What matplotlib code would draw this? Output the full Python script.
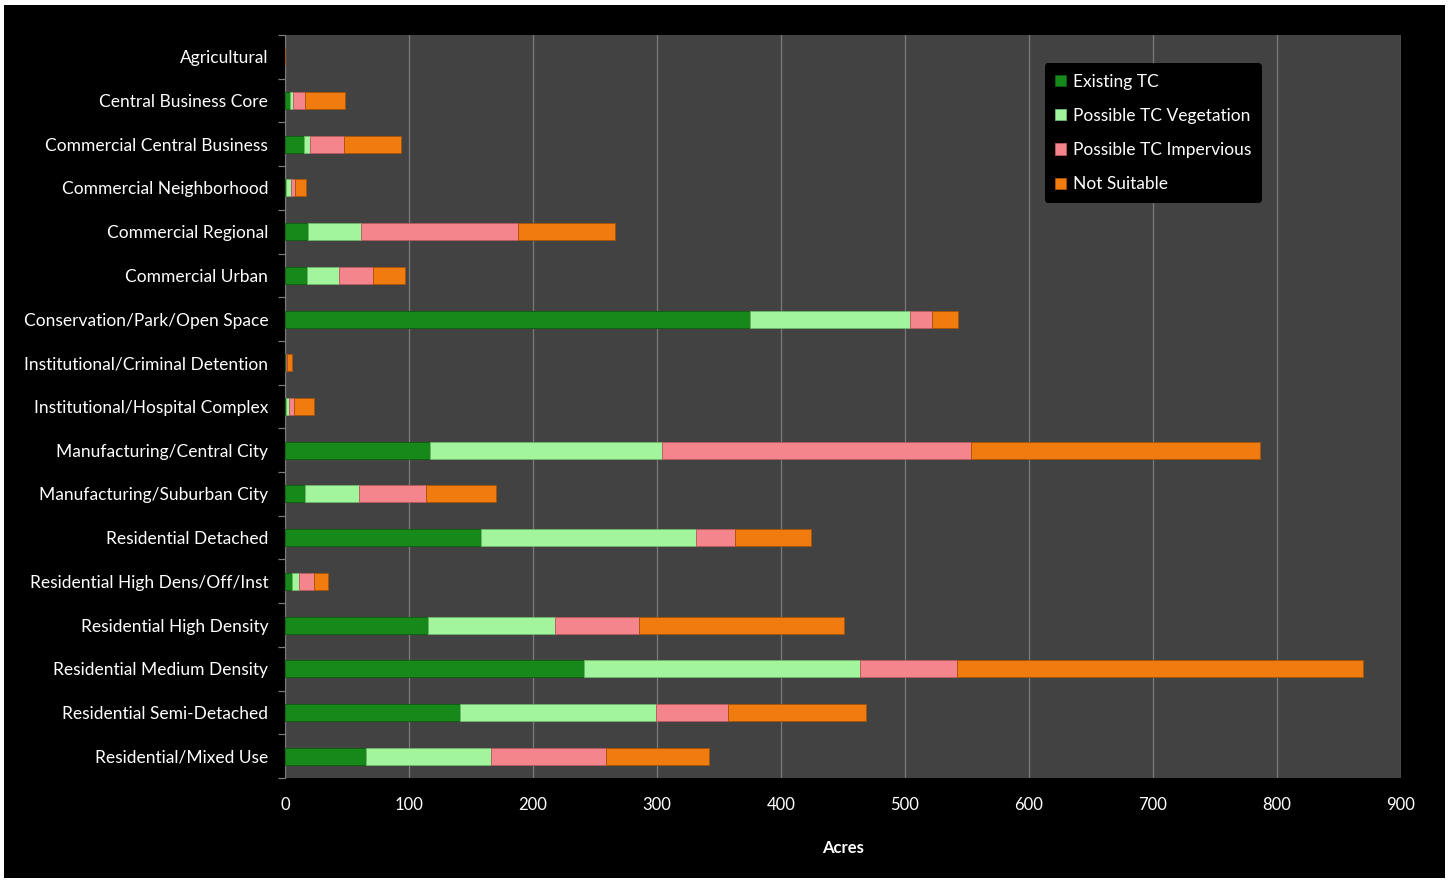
import matplotlib
matplotlib.use('Agg')
import matplotlib.pyplot as plt
import numpy as np
from matplotlib.patches import Rectangle

# --------------- data -----------------------------------------

categories = [
    'Agricultural', 'Central Business Core', 'Commercial Central Business',
    'Commercial Neighborhood', 'Commercial Regional', 'Commercial Urban',
    'Conservation/Park/Open Space', 'Institutional/Criminal Detention',
    'Institutional/Hospital Complex', 'Manufacturing/Central City',
    'Manufacturing/Suburban City', 'Residential Detached',
    'Residential High Dens/Off/Inst', 'Residential High Density',
    'Residential Medium Density', 'Residential Semi-Detached',
    'Residential/Mixed Use',
]

existing_tc = [0, 4, 15, 1, 18.5, 17.5, 375, 0.5, 1, 117, 16.5, 158, 6, 115, 241, 141, 65]
possible_veg = [0, 2.5, 5, 3.5, 43, 26, 129, 0.5, 2, 187, 43, 173.5, 5.5, 102.5, 223, 158.5, 101]
possible_imp = [0, 10, 27.5, 3.5, 126, 27.5, 17.5, 1, 4, 249.5, 54, 31, 12, 68, 78, 57.5, 92.5]
not_suitable = [0, 32, 46, 9, 79, 25.5, 21.5, 4, 16, 232.5, 56.5, 61.5, 11, 165.5, 327, 111.5, 83.5]

series_names = ['Existing TC', 'Possible TC Vegetation', 'Possible TC Impervious', 'Not Suitable']
series_colors = ['#17891a', '#a2f59c', '#f5858d', '#f07b0f']
edge_colors = ['#0d5e10', '#6fb86a', '#b85a60', '#a85306']

x_ticks = [0, 100, 200, 300, 400, 500, 600, 700, 800, 900]

plt.rcParams['font.family'] = ['Lato', 'DejaVu Sans']

fig = plt.figure(figsize=(14.5, 8.83), dpi=100, facecolor='white')
# black chart area with a thin white margin
fig.patches.append(Rectangle((4 / 1450, 1 - 878 / 883), 1441 / 1450, 873 / 883,
                             transform=fig.transFigure, facecolor='black',
                             edgecolor='none', zorder=-10))

ax = fig.add_axes([285 / 1450, 1 - 778 / 883, 1116 / 1450, 743 / 883])
ax.set_facecolor('#424242')

y = np.arange(len(categories))
left = np.zeros(len(categories))
series = [existing_tc, possible_veg, possible_imp, not_suitable]
for name, vals, col, ec in zip(series_names, series, series_colors, edge_colors):
    vals = np.array(vals, dtype=float)
    ax.barh(y, vals, left=left, height=0.39, color=col, edgecolor=ec,
            linewidth=0.6, label=name, zorder=3)
    left += vals

ax.set_xlim(0, 900)
ax.set_ylim(len(categories) - 0.5, -0.5)
ax.set_xticks(x_ticks)
ax.set_yticks(y)
ax.set_yticklabels(categories)
ax.set_yticks(np.arange(len(categories) + 1) - 0.5, minor=True)

ax.grid(axis='x', color='#7a7a7a', linewidth=0.9, zorder=1)
ax.tick_params(axis='x', colors='white', labelsize=12, length=0, pad=14)
ax.tick_params(axis='y', which='major', colors='white', labelsize=12.5, length=0, pad=12)
ax.tick_params(axis='y', which='minor', color='#7a7a7a', length=5, width=0.9)

for side in ['top', 'right', 'bottom']:
    ax.spines[side].set_visible(False)
ax.spines['left'].set_color('#7a7a7a')

ax.set_xlabel('Acres', color='white', fontsize=12, fontweight='bold', labelpad=19)

leg = ax.legend(loc='upper left', bbox_to_anchor=(0.681, 0.962), frameon=True,
                facecolor='black', edgecolor='black', framealpha=1, borderaxespad=0,
                fontsize=12.5, labelcolor='white', handlelength=0.6, handleheight=0.6,
                handletextpad=0.4, labelspacing=1.05, borderpad=0.6)
leg.get_frame().set_linewidth(0)

fig.savefig('out.png', dpi=100, facecolor='white')
